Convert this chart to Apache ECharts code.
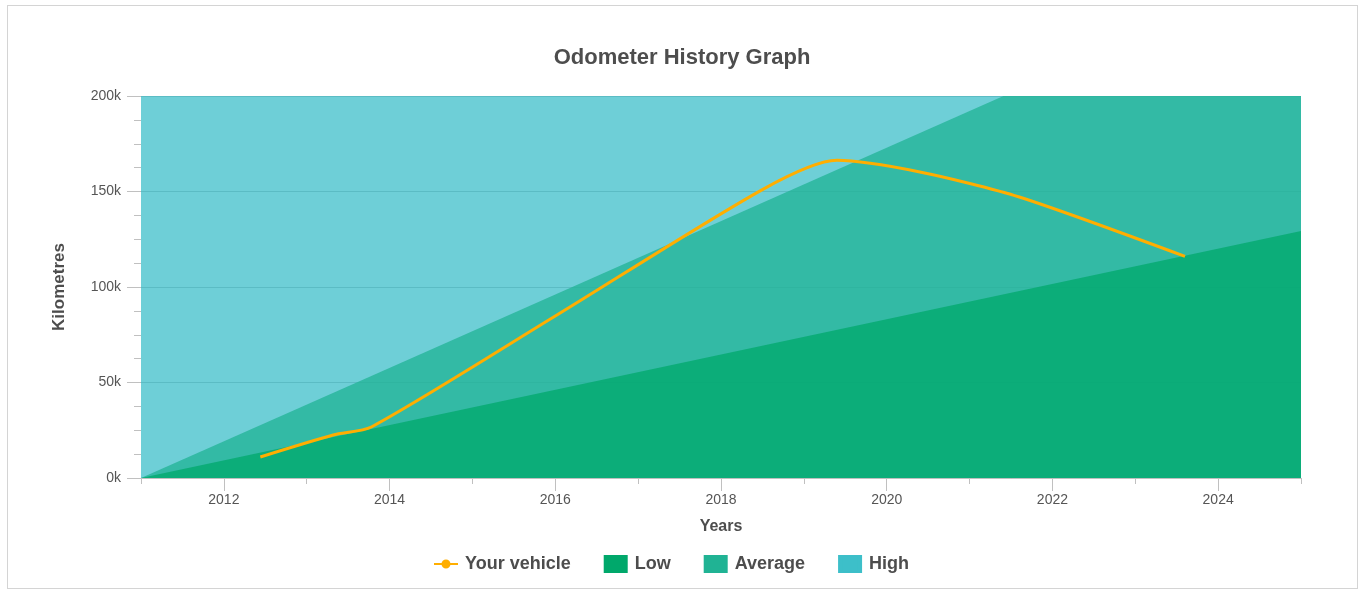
<html>
<head>
    <meta charset="utf-8">
    <title>Odometer History Graph</title>
    <script src="https://cdn.jsdelivr.net/npm/echarts@6.0.0/dist/echarts.min.js"></script>
    <style type="text/css">
        body{
            margin: 0;
            background: #fff;
        }
        #chart{
            width: 1364px;
            height: 592px;
        }
        #frame{
            position: absolute;
            left: 7px;
            top: 5px;
            width: 1349px;
            height: 582px;
            border: 1px solid #d4d4d4;
            pointer-events: none;
        }
    </style>
</head>
<body>
    <div id="chart"></div>
    <div id="frame"></div>
    <script type="text/javascript">
        // vehicle readings (year, km)
        var vehicleYears = [2012.44, 2013.32, 2013.78, 2016.0, 2018.5, 2019.4, 2020.4, 2021.6, 2023.6];
        var vehicleKm = [11000, 22500, 26700, 84800, 151000, 166300, 160200, 147100, 116000];

        // reference bands
        var lowYears = [2011, 2025];
        var lowKm = [0, 129300];
        var averageYears = [2011, 2025];
        var averageKm = [0, 269000];
        var highYears = [2011, 2011, 2025];
        var highKm = [0, 200000, 200000];

        // axis ticks
        var labelYears = [2012, 2014, 2016, 2018, 2020, 2022, 2024];
        var minorYears = [2011, 2013, 2015, 2017, 2019, 2021, 2023, 2025];

        function pairs(xs, ys){
            var out = [];
            for(var i=0;i<xs.length;i++){
                out.push([xs[i], ys[i]]);
            }
            return out;
        }

        // small dot with padding so the legend marker stays small
        var dotIcon = 'path://M0,0 L0.001,0.001 M16,16 L16.001,16.001 M3,8 A5,5 0 1 1 13,8 A5,5 0 1 1 3,8 Z';

        var font = 'Liberation Sans, Arial, sans-serif';
        var myChart = echarts.init(document.getElementById('chart'));
        var option = {
            textStyle: { fontFamily: font },
            title: {
                text: 'Odometer History Graph',
                left: 'center',
                top: 42,
                textStyle: {
                    fontSize: 22,
                    fontWeight: 'bold',
                    color: '#4d4d4d',
                    fontFamily: font
                }
            },
            legend: {
                bottom: 14,
                left: 428,
                itemWidth: 24,
                itemHeight: 18,
                itemGap: 24,
                data: [
                    { name: 'Your vehicle' },
                    { name: 'Low', lineStyle: { width: 18, cap: 'butt' } },
                    { name: 'Average', lineStyle: { width: 18, cap: 'butt' } },
                    { name: 'High', lineStyle: { width: 18, cap: 'butt' } }
                ],
                textStyle: {
                    fontSize: 18,
                    fontWeight: 'bold',
                    color: '#4d4d4d',
                    fontFamily: font,
                    padding: [0, 0, 0, 2]
                }
            },
            grid: {
                left: 141,
                right: 63,
                top: 96,
                bottom: 114
            },
            xAxis: [{
                type: 'value',
                min: 2011,
                max: 2025,
                name: 'Years',
                nameLocation: 'middle',
                nameGap: 41,
                nameTextStyle: { fontSize: 16, fontWeight: 'bold', color: '#4d4d4d' },
                axisLine: { lineStyle: { color: '#c0c0c0' } },
                axisTick: { customValues: labelYears, length: 13, lineStyle: { color: '#c0c0c0' } },
                axisLabel: {
                    customValues: labelYears,
                    margin: 15,
                    fontSize: 14,
                    color: '#555',
                    formatter: function(v){ return String(v); }
                },
                splitLine: { show: false }
            }, {
                type: 'value',
                min: 2011,
                max: 2025,
                position: 'bottom',
                axisLine: { show: false },
                axisTick: { customValues: minorYears, length: 6, lineStyle: { color: '#c0c0c0' } },
                axisLabel: { show: false },
                splitLine: { show: false }
            }],
            yAxis: {
                type: 'value',
                min: 0,
                max: 200000,
                interval: 50000,
                name: 'Kilometres',
                nameLocation: 'middle',
                nameGap: 73,
                nameTextStyle: { fontSize: 17, fontWeight: 'bold', color: '#4d4d4d' },
                axisLine: { show: false },
                axisTick: { show: true, length: 14, lineStyle: { color: '#c0c0c0' } },
                minorTick: { show: true, splitNumber: 4, length: 7, lineStyle: { color: '#c0c0c0' } },
                axisLabel: {
                    margin: 20,
                    fontSize: 14,
                    color: '#555',
                    formatter: function(v){ return (v/1000) + 'k'; }
                },
                splitLine: { lineStyle: { color: '#b4b4b4' } }
            },
            series: [{
                name: 'High',
                type: 'line',
                color: '#3dbfc9',
                showSymbol: false,
                symbol: 'rect',
                lineStyle: { width: 0 },
                areaStyle: { color: '#3dbfc9', opacity: 0.75 },
                data: pairs(highYears, highKm)
            }, {
                name: 'Average',
                type: 'line',
                color: '#20b394',
                showSymbol: false,
                symbol: 'rect',
                lineStyle: { width: 0 },
                areaStyle: { color: '#20b394', opacity: 0.75 },
                data: pairs(averageYears, averageKm)
            }, {
                name: 'Low',
                type: 'line',
                color: '#00a86b',
                showSymbol: false,
                symbol: 'rect',
                lineStyle: { width: 0 },
                areaStyle: { color: '#00a86b', opacity: 0.75 },
                data: pairs(lowYears, lowKm)
            }, {
                name: 'Your vehicle',
                type: 'line',
                color: '#ffae00',
                smooth: 0.25,
                symbol: dotIcon,
                symbolSize: 16,
                showSymbol: false,
                lineStyle: { width: 3 },
                data: pairs(vehicleYears, vehicleKm)
            }]
        };
        myChart.setOption(option);
    </script>
</body>
</html>
